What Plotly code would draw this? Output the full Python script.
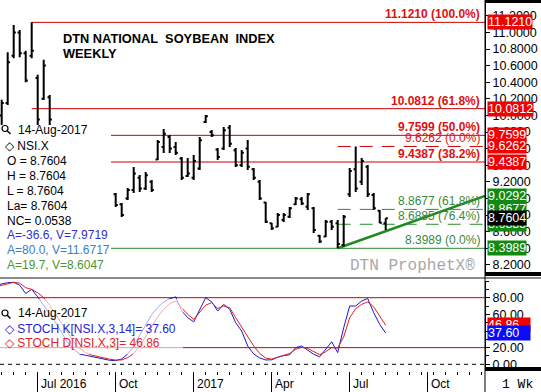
import pandas as pd
import plotly.graph_objects as go

# ---------------- data ----------------
bar_dates = [
    "2016-05-23", "2016-05-30", "2016-06-06", "2016-06-13", "2016-06-20", "2016-06-27",
    "2016-07-04", "2016-07-11", "2016-07-18",
    "2016-10-03", "2016-10-10", "2016-10-17", "2016-10-24", "2016-10-31", "2016-11-07",
    "2016-11-14", "2016-11-21", "2016-11-28", "2016-12-05", "2016-12-12", "2016-12-19",
    "2016-12-26", "2017-01-02", "2017-01-09", "2017-01-16", "2017-01-23", "2017-01-30",
    "2017-02-06", "2017-02-13", "2017-02-20", "2017-02-27", "2017-03-06", "2017-03-13",
    "2017-03-20", "2017-03-27", "2017-04-03", "2017-04-10", "2017-04-17", "2017-04-24",
    "2017-05-01", "2017-05-08", "2017-05-15", "2017-05-22", "2017-05-29", "2017-06-05",
    "2017-06-12", "2017-06-19", "2017-06-26", "2017-07-03", "2017-07-10", "2017-07-17",
    "2017-07-24", "2017-07-31", "2017-08-07", "2017-08-14",
]
bar_open = [
    10.00, 10.15, 10.72, 11.00, 10.75, 10.72, 10.45, 10.20, 10.22,
    9.05, 8.93, 9.00, 9.10, 9.25, 9.12, 9.20, 9.47, 9.62, 9.74, 9.62, 9.48,
    9.27, 9.25, 9.36, 9.92, 9.80, 9.59, 9.60, 9.85, 9.58, 9.40, 9.60, 9.35,
    9.20, 8.95, 8.70, 8.66, 8.74, 8.78, 8.93, 8.99, 8.90, 8.88, 8.55, 8.54,
    8.72, 8.70, 8.44, 9.05, 9.35, 9.20, 9.38, 9.04, 8.85, 8.70,
]
bar_high = [
    10.19, 10.76, 11.09, 11.03, 10.78, 11.121, 10.49, 10.67, 10.245,
    9.065, 8.945, 9.125, 9.378, 9.282, 9.318, 9.222, 9.704, 9.836, 9.764, 9.68, 9.499,
    9.487, 9.523, 9.74, 10.005, 9.824, 9.607, 9.86, 9.884, 9.606, 9.583, 9.704, 9.366,
    9.222, 8.957, 8.704, 8.824, 8.824, 8.896, 9.017, 9.017, 9.065, 8.896, 8.559, 8.74,
    8.74, 8.74, 8.80, 9.366, 9.6262, 9.487, 9.402, 9.065, 8.86, 8.7604,
]
bar_low = [
    9.85, 10.125, 10.69, 10.70, 10.40, 10.69, 9.80, 10.185, 9.80,
    8.896, 8.776, 8.981, 9.065, 9.077, 9.101, 9.077, 9.463, 9.547, 9.547, 9.523, 9.222,
    9.258, 9.222, 9.342, 9.91, 9.74, 9.463, 9.583, 9.619, 9.378, 9.378, 9.342, 9.222,
    8.981, 8.704, 8.62, 8.656, 8.716, 8.764, 8.92, 8.92, 8.86, 8.583, 8.463, 8.535,
    8.62, 8.3989, 8.42, 9.017, 9.077, 9.161, 9.017, 8.86, 8.70, 8.62,
]
bar_close = [
    10.15, 10.64, 11.00, 10.75, 10.42, 10.78, 9.95, 10.60, 9.95,
    8.92, 8.80, 9.10, 9.30, 9.12, 9.28, 9.10, 9.68, 9.78, 9.60, 9.55, 9.25,
    9.30, 9.45, 9.70, 9.99, 9.76, 9.50, 9.82, 9.66, 9.40, 9.55, 9.38, 9.25,
    9.00, 8.72, 8.64, 8.80, 8.80, 8.88, 9.00, 8.94, 9.05, 8.62, 8.48, 8.72,
    8.66, 8.45, 8.78, 9.33, 9.12, 9.45, 9.05, 8.88, 8.7066, 8.7604,
]

stoch_start = "2016-05-16"
stoch_k = [
    95, 96.5, 98, 98.5, 95, 85, 90, 81, 71, 61, 50, 38, 26, 18, 12.4, 10.8, 9.2, 7.6,
    6, 4.8, 4.4, 6.4, 12.4, 21.6, 34.8, 47.6, 59.6, 68.4, 74.8, 78.8, 81, 64, 56, 51,
    66, 80, 75, 64, 72, 66, 50, 40, 22, 12.4, 7.6, 5.2, 5.4, 8.5, 10.5, 11.5, 20, 22,
    17, 12, 9, 18, 27, 14, 44, 70, 70, 76, 79, 62, 48, 37.60,
]
stoch_d = [
    93, 95, 97, 98.5, 97.5, 92, 90, 86, 80, 71, 60, 49, 38, 27, 19, 14, 11, 9.2,
    7.6, 6.1, 5.1, 5.2, 8, 13, 22, 33, 45, 57, 66, 73, 76, 68, 60, 54,
    63, 71, 74, 67, 70, 68, 56, 45, 33, 22, 13, 7.5, 6.2, 8.5, 10, 13, 18, 20.5,
    19, 15, 11.5, 15, 20, 19.5, 33, 56, 67, 72, 75, 69, 58, 46.86,
]
stoch_dates = pd.date_range(stoch_start, periods=len(stoch_k), freq="7D")

red_fib_levels = [11.1210, 10.0812, 9.7599, 9.4387]
red_fib_labels = ["11.1210 (100.0%)", "10.0812 (61.8%)", "9.7599 (50.0%)", "9.4387 (38.2%)"]
red_fib_start = "2016-06-27"
swing_low = 8.3989
swing_low_label = "8.3989 (0.0%)"
swing_high = 9.6262
swing_high_label = "9.6262 (0.0%)"
green_fib_levels = [8.8677, 8.6885]
green_fib_labels = ["8.8677 (61.8%)", "8.6885 (76.4%)"]
swing_start = "2017-06-19"
trend_end_value = 9.0292
last_price = 8.7604

tag_values = [11.1210, 10.0812, 9.7599, 9.6262, 9.4387, 9.0292, 8.8677, 8.6885, 8.3989, 8.7604]
tag_kinds = ["r", "r", "r", "r", "r", "g", "g", "g", "g", "k"]

info_lines = ["O = 8.7604", "H = 8.7604", "L = 8.7604", "La= 8.7604", "NC= 0.0538"]
cursor_lines = ["A=-36.6, V=7.9719", "A=80.0, V=11.6717", "A=19.7, V=8.6047"]
stoch_k_last = 37.60
stoch_d_last = 46.86

quarter_ticks = ["2016-07-04", "2016-10-03", "2017-01-02", "2017-04-03", "2017-07-03", "2017-10-02"]
quarter_labels = ["Jul 2016", "Oct", "2017", "Apr", "Jul", "Oct"]

# ---------------- layout geometry ----------------
W, H = 541, 392
PW = 485  # plot-area width in px


def px(x):
    return x / PW


def py(y):
    return 1 - y / H


anchor_date = pd.Timestamp("2016-07-04")
x_start = anchor_date - pd.Timedelta(days=37.7 * 7 / 6)
x_end = anchor_date + pd.Timedelta(days=(PW - 37.7) * 7 / 6)

FONT = "Arial, Liberation Sans, sans-serif"
MONO = "Courier New, Liberation Mono, monospace"
RED_LINE = "#cc0000"
RED_TXT = "#e01010"
GREEN_LINE = "#2e8b2e"
GREEN_TXT = "#3a8a3a"

fig = go.Figure()

fig.add_trace(go.Ohlc(
    x=bar_dates, open=bar_open, high=bar_high, low=bar_low, close=bar_close,
    increasing=dict(line=dict(color="black", width=2)),
    decreasing=dict(line=dict(color="black", width=2)),
    tickwidth=0.36, xaxis="x", yaxis="y", hoverinfo="skip", showlegend=False,
))

fig.add_trace(go.Scatter(x=stoch_dates, y=stoch_k, mode="lines",
                         line=dict(color="#1a1ac8", width=1), xaxis="x2", yaxis="y2",
                         hoverinfo="skip", showlegend=False))
fig.add_trace(go.Scatter(x=stoch_dates, y=stoch_d, mode="lines",
                         line=dict(color="#e02020", width=1), xaxis="x2", yaxis="y2",
                         hoverinfo="skip", showlegend=False))

shapes = []
# red fibonacci lines
for lv in red_fib_levels:
    shapes.append(dict(type="line", xref="x", yref="y", x0=red_fib_start, x1=x_end,
                       y0=lv, y1=lv, line=dict(color=RED_LINE, width=1), layer="below"))
shapes.append(dict(type="line", xref="x", yref="y", x0=red_fib_start, x1=x_end,
                   y0=swing_low, y1=swing_low, line=dict(color=GREEN_LINE, width=1), layer="below"))
# swing high dashed red
shapes.append(dict(type="line", xref="x", yref="y", x0=swing_start, x1=x_end,
                   y0=swing_high, y1=swing_high,
                   line=dict(color=RED_LINE, width=1, dash="13px,9px"), layer="below"))
for lv in green_fib_levels:
    shapes.append(dict(type="line", xref="x", yref="y", x0=swing_start, x1=x_end,
                       y0=lv, y1=lv, line=dict(color=GREEN_LINE, width=1, dash="13px,9px"),
                       layer="below"))
# trend line
shapes.append(dict(type="line", xref="x", yref="y", x0=swing_start, x1=x_end,
                   y0=swing_low, y1=trend_end_value,
                   line=dict(color="#1f8a1f", width=2.5), layer="below"))
# stochastic reference lines
for lv in (80, 20):
    shapes.append(dict(type="line", xref="paper", yref="y2", x0=0, x1=1, y0=lv, y1=lv,
                       line=dict(color=RED_LINE, width=1), layer="below"))
shapes.append(dict(type="line", xref="paper", yref="y2", x0=0, x1=1, y0=0, y1=0,
                   line=dict(color="black", width=1, dash="4px,4px"), layer="below"))

# opaque info box (main) and translucent legend box (stoch)
shapes.append(dict(type="rect", xref="paper", yref="paper", x0=0, x1=px(111),
                   y0=py(273), y1=py(125), fillcolor="white", line=dict(width=0), layer="above"))
shapes.append(dict(type="rect", xref="paper", yref="paper", x0=0, x1=px(183),
                   y0=py(354), y1=py(299), fillcolor="white", opacity=0.62,
                   line=dict(width=0), layer="above"))

# panel separators / frame pieces
shapes.append(dict(type="line", xref="paper", yref="paper", x0=0, x1=W / PW,
                   y0=py(278), y1=py(278), line=dict(color="#8c8c8c", width=2), layer="above"))
for (a, b) in ((0, 3), (272, 276), (367, 371)):
    shapes.append(dict(type="rect", xref="paper", yref="paper", x0=1, x1=W / PW,
                       y0=py(b), y1=py(a), fillcolor="black", line=dict(width=0), layer="above"))
shapes.append(dict(type="line", xref="paper", yref="paper", x0=1, x1=1, y0=0, y1=1,
                   line=dict(color="black", width=1), layer="above"))

# magnifier icons
for cy in (128.5, 313):
    shapes.append(dict(type="circle", xref="paper", yref="paper", x0=px(2), x1=px(8),
                       y0=py(cy + 3), y1=py(cy - 3), line=dict(color="black", width=1.2),
                       layer="above"))
    shapes.append(dict(type="line", xref="paper", yref="paper", x0=px(7.2), x1=px(10.5),
                       y0=py(cy + 2.2), y1=py(cy + 5.5), line=dict(color="black", width=1.4),
                       layer="above"))

ann = []


def text(x, y, s, color="black", size=12, anchor="left", bold=False, family=FONT, yref="paper"):
    ann.append(dict(xref="paper", yref=yref, x=x, y=y, text=f"<b>{s}</b>" if bold else s,
                    showarrow=False, xanchor=anchor, yanchor="middle",
                    font=dict(family=family, size=size, color=color)))


text(px(61), py(38.5), "DTN NATIONAL\u00a0 SOYBEAN\u00a0 INDEX", bold=True, size=12.8)
text(px(61), py(54), "WEEKLY", bold=True, size=12.8)

# info block
text(px(16), py(130), "14-Aug-2017")
text(px(3), py(145.5), "\u25c7 NSI.X", size=12)
for i, s in enumerate(info_lines):
    text(px(5), py(160.7 + 15 * i), s)
for s, c, yy in zip(cursor_lines, ["#3030c8", "#3a7ec4", "#4a9432"], [235.5, 250.3, 265]):
    text(px(5), py(yy), s, color=c)

# fib labels
for lv, lab in zip(red_fib_levels, red_fib_labels):
    ann.append(dict(xref="paper", yref="y", x=px(481), y=lv, text=f"<b>{lab}</b>",
                    showarrow=False, xanchor="right", yanchor="bottom", borderpad=0,
                    font=dict(family=FONT, size=12, color=RED_TXT)))
ann.append(dict(xref="paper", yref="y", x=px(481), y=swing_high, text=swing_high_label,
                showarrow=False, xanchor="right", yanchor="bottom", borderpad=0,
                font=dict(family=FONT, size=12, color=RED_TXT)))
for lv, lab in zip(green_fib_levels + [swing_low], green_fib_labels + [swing_low_label]):
    ann.append(dict(xref="paper", yref="y", x=px(481), y=lv, text=lab,
                    showarrow=False, xanchor="right", yanchor="bottom", borderpad=0,
                    font=dict(family=FONT, size=12, color=GREEN_TXT)))

# watermark
text(px(477), py(266), "DTN ProphetX\u00ae", color="#a8a8a8", size=16, anchor="right", family=MONO)

# price tags on the axis
kind_col = {"r": "#f00000", "g": "#128a12", "k": "black"}
for v, k in zip(tag_values, tag_kinds):
    ann.append(dict(xref="paper", yref="y", x=px(487), y=v, text=f"{v:.4f}",
                    showarrow=False, xanchor="left", yanchor="middle", bgcolor=kind_col[k],
                    borderpad=0, font=dict(family=FONT, size=12.5, color="white")))

# stochastic legend
text(px(16), py(313), "14-Aug-2017")
text(px(3), py(328.7), f"\u25c7 STOCH K[NSI.X,3,14]= {stoch_k_last:.2f}", color="#2424cc")
text(px(3), py(343), f"\u25c7 STOCH D[NSI.X,3]= {stoch_d_last:.2f}", color="#e02424")
for v, c in ((stoch_d_last, "#f00000"), (stoch_k_last, "#0a0aff")):
    ann.append(dict(xref="paper", yref="y2", x=px(487), y=v, text=f"{v:.2f}\u00a0\u00a0\u00a0",
                    showarrow=False, xanchor="left", yanchor="middle", bgcolor=c,
                    borderpad=0, font=dict(family=FONT, size=12.5, color="white")))

# x axis labels
for d, lab in zip(quarter_ticks, quarter_labels):
    ann.append(dict(xref="x2", yref="paper", x=d, y=py(384), text=lab, showarrow=False,
                    xanchor="left", yanchor="middle", xshift=1,
                    font=dict(family=FONT, size=12, color="black")))
text(px(500), py(384), "1 Wk", family=MONO, size=13)

fig.update_layout(
    width=W, height=H, autosize=False,
    margin=dict(l=0, r=W - PW, t=0, b=0),
    paper_bgcolor="white", plot_bgcolor="white", showlegend=False,
    shapes=shapes, annotations=ann,
    xaxis=dict(domain=[0, 1], range=[x_start, x_end], type="date", anchor="y",
               showticklabels=False, ticks="", showgrid=False, zeroline=False,
               rangeslider=dict(visible=False), matches="x2"),
    xaxis2=dict(domain=[0, 1], range=[x_start, x_end], type="date", anchor="y2",
                showticklabels=False, showgrid=False, zeroline=False,
                ticks="outside", tickvals=quarter_ticks, ticklen=21, tickwidth=1,
                tickcolor="black",
                minor=dict(ticks="outside", ticklen=3, dtick=14 * 86400000,
                           tick0="2016-07-04", tickcolor="black", showgrid=False),
                rangeslider=dict(visible=False)),
    yaxis=dict(domain=[py(274), 1], range=[8.0893, 11.3905], side="right", anchor="x",
               tickformat=".4f", dtick=0.2, tick0=0, ticks="outside", ticklen=4,
               tickcolor="black", showline=True, linecolor="black", linewidth=1,
               showgrid=False, zeroline=False,
               tickfont=dict(family=FONT, size=12.5, color="black")),
    yaxis2=dict(domain=[py(371), py(281)], range=[-8.05, 100.06], side="right", anchor="x2",
                tickvals=[0, 20, 40, 60, 80], ticktext=["0.00", "20.00", "40.00", "60.00", "80.00"],
                ticks="outside", ticklen=4, tickcolor="black", showline=True,
                linecolor="black", linewidth=1, showgrid=False, zeroline=False,
                minor=dict(ticks="outside", ticklen=3, dtick=10, tickcolor="black", showgrid=False),
                tickfont=dict(family=FONT, size=12.5, color="black")),
)

fig.write_html("out.html", config={"displayModeBar": False},
               post_script="document.body.style.margin='0px';document.body.style.overflow='hidden';")
